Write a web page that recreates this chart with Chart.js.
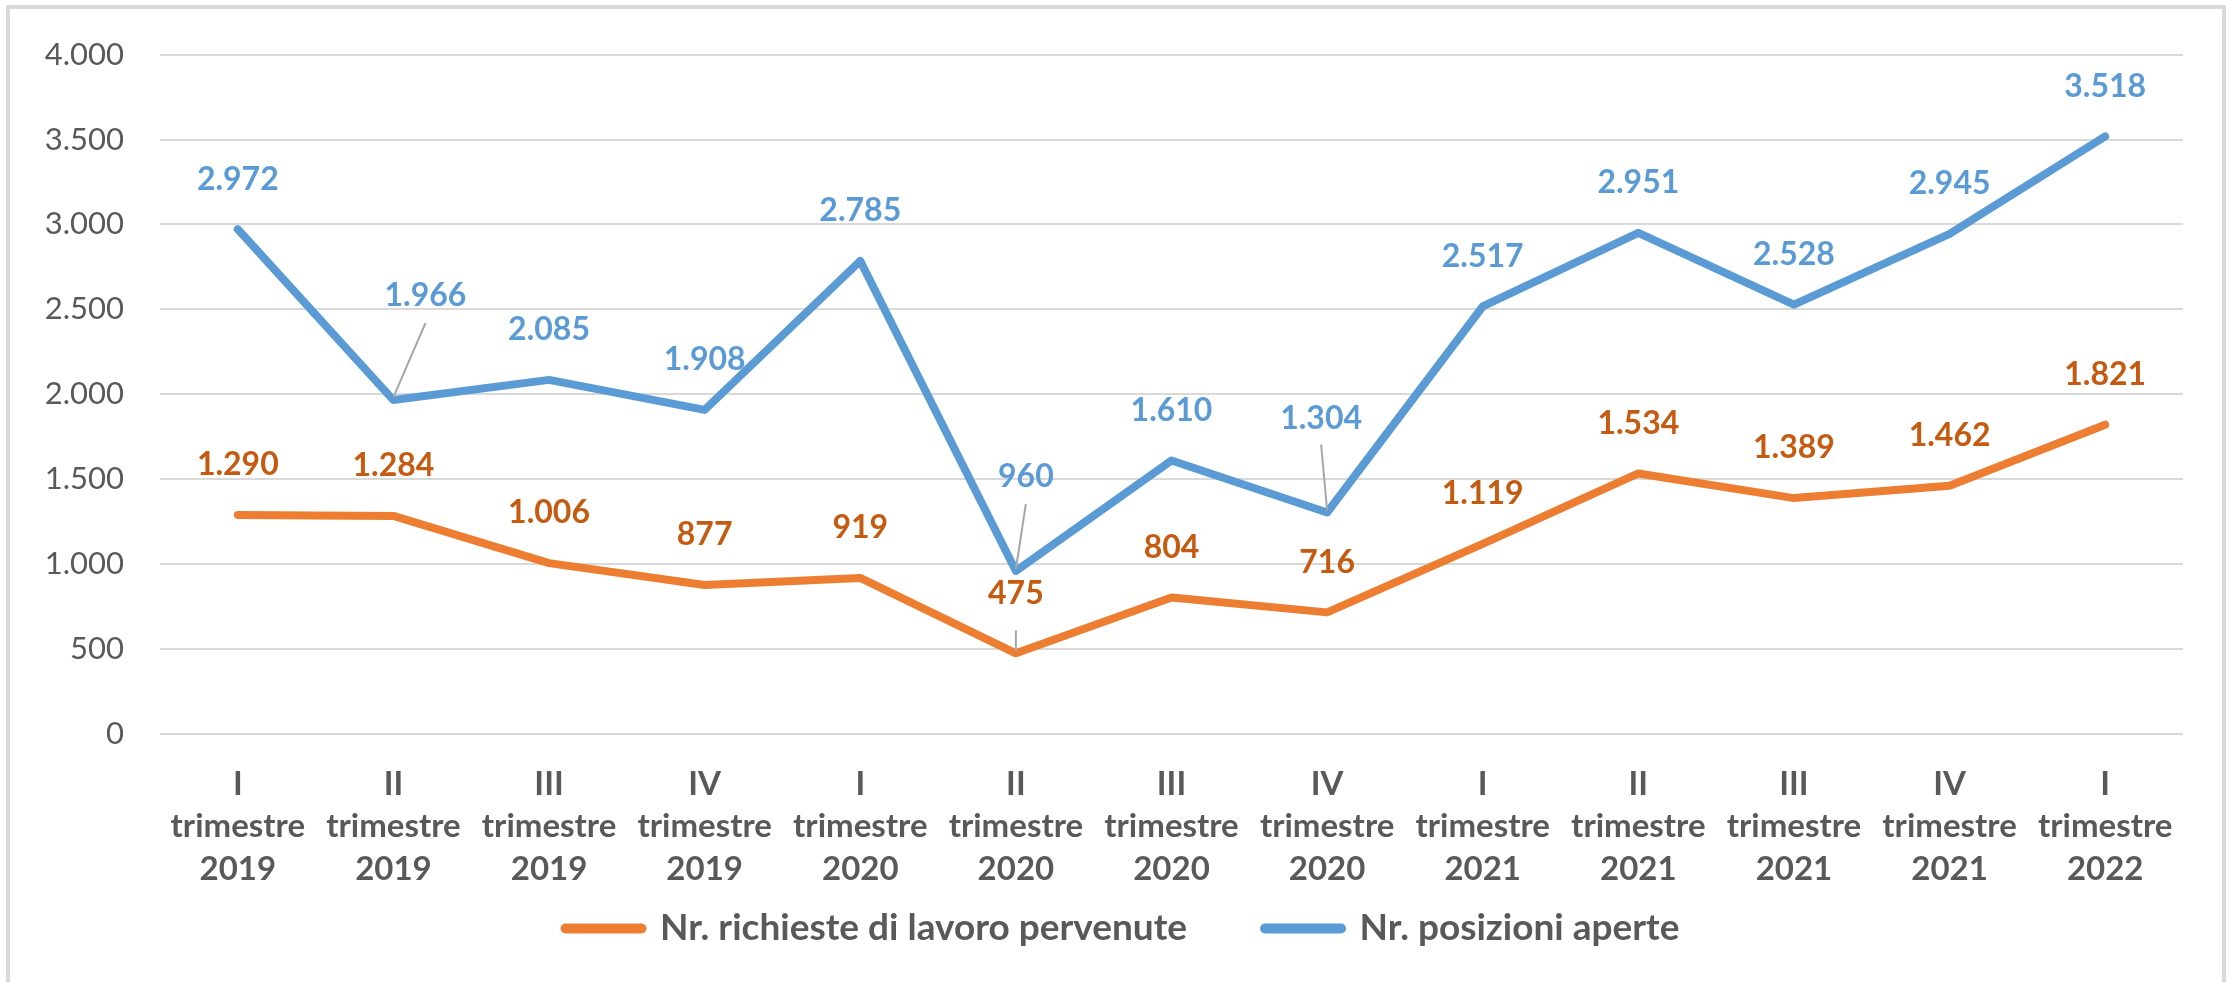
<!DOCTYPE html>
<html>
<head>
<meta charset="utf-8">
<script src="https://cdn.jsdelivr.net/npm/chart.js@4"></script>
<style>
  html, body { margin: 0; padding: 0; background: #ffffff; }
  #wrap { position: absolute; left: 0; top: 0; width: 2234px; height: 982px; }
  #frame { position: absolute; left: 6px; top: 5px; width: 2220px; height: 990px; border: 4px solid #d9d9d9; box-sizing: border-box; pointer-events: none; }
  canvas { position: absolute; left: 0; top: 0; }
</style>
</head>
<body>
<div id="wrap">
  <canvas id="c" width="2234" height="982"></canvas>
  <div id="frame"></div>
</div>
<script>
// ---- data ----
const quarters = ["I", "II", "III", "IV", "I", "II", "III", "IV", "I", "II", "III", "IV", "I"];
const years = ["2019", "2019", "2019", "2019", "2020", "2020", "2020", "2020", "2021", "2021", "2021", "2021", "2022"];
const richieste = [1290, 1284, 1006, 877, 919, 475, 804, 716, 1119, 1534, 1389, 1462, 1821];
const posizioni = [2972, 1966, 2085, 1908, 2785, 960, 1610, 1304, 2517, 2951, 2528, 2945, 3518];
const seriesNames = ["Nr. richieste di lavoro pervenute", "Nr. posizioni aperte"];
const yTicks = [0, 500, 1000, 1500, 2000, 2500, 3000, 3500, 4000];

// ---- styles ----
const FONT = "Lato, 'Open Sans', sans-serif";
const TEXT = "#595959";
const ORANGE = "#ED7D31";
const ORANGE_LABEL = "#C55A11";
const BLUE = "#5B9BD5";
const GRID = "#D9D9D9";
const LEADER = "#A6A6A6";

// label placement (px, relative to point): default above
const DEF_DY = -50;
const labelShift = {
  0: { 5: { dx: 0, dy: -60, leader: [-23, -2] } },
  1: { 1: { dx: 32, dy: -104, leader: [-77, -3] },
       5: { dx: 10, dy: -94, leader: [-67, -2] },
       7: { dx: -6, dy: -94, leader: [-68, -2] } }
};

const fmt = v => v.toLocaleString('de-DE');

const labelPlugin = {
  id: 'pointLabels',
  afterLayout(chart) {
    // fine placement of the legend row (box grows upward, bottom kept)
    const lg = chart.legend;
    if (lg) { lg.top -= 62; lg.height += 62; lg.left += 26; lg.right += 26; }
  },
  afterDatasetsDraw(chart) {
    const ctx = chart.ctx;
    ctx.save();
    chart.data.datasets.forEach((ds, di) => {
      const meta = chart.getDatasetMeta(di);
      meta.data.forEach((pt, i) => {
        const s = (labelShift[di] && labelShift[di][i]) || { dx: 0, dy: DEF_DY };
        const lx = pt.x + s.dx, ly = pt.y + s.dy;
        if (s.leader) {
          ctx.strokeStyle = LEADER;
          ctx.lineWidth = 2;
          ctx.beginPath();
          ctx.moveTo(lx, pt.y + s.leader[0]);
          ctx.lineTo(pt.x, pt.y + s.leader[1]);
          ctx.stroke();
        }
        ctx.fillStyle = ds.labelColor;
        ctx.font = "bold 32px " + FONT;
        ctx.textAlign = 'center';
        ctx.textBaseline = 'middle';
        ctx.fillText(fmt(ds.data[i]), lx, ly);
      });
    });
    ctx.restore();
  }
};

new Chart(document.getElementById('c'), {
  type: 'line',
  data: {
    labels: quarters.map((q, i) => [q, 'trimestre', years[i]]),
    datasets: [
      { label: seriesNames[0], data: richieste, borderColor: ORANGE, backgroundColor: ORANGE, labelColor: ORANGE_LABEL,
        borderWidth: 8, pointRadius: 0, tension: 0, borderJoinStyle: 'round', borderCapStyle: 'round' },
      { label: seriesNames[1], data: posizioni, borderColor: BLUE, backgroundColor: BLUE, labelColor: BLUE,
        borderWidth: 8, pointRadius: 0, tension: 0, borderJoinStyle: 'round', borderCapStyle: 'round' }
    ]
  },
  options: {
    responsive: false,
    animation: false,
    devicePixelRatio: 1,
    layout: { padding: { left: 10, right: 51, top: 45, bottom: 28 } },
    plugins: {
      tooltip: { enabled: false },
      legend: {
        position: 'bottom',
        maxHeight: 60,
        labels: {
          usePointStyle: true,
          pointStyle: 'line',
          pointStyleWidth: 76,
          boxHeight: 37,
          padding: 78,
          color: TEXT,
          font: { family: FONT, size: 37, weight: 'bold' },
          generateLabels(chart) {
            return chart.data.datasets.map((ds, i) => ({
              text: ds.label, fillStyle: ds.borderColor, strokeStyle: ds.borderColor,
              lineWidth: 10, lineCap: 'round', pointStyle: 'line', fontColor: TEXT, datasetIndex: i, hidden: false
            }));
          }
        }
      }
    },
    scales: {
      x: {
        offset: true,
        grid: { display: false, drawTicks: false },
        border: { display: false },
        ticks: { color: TEXT, padding: 29, maxRotation: 0, autoSkip: false,
                 font: { family: FONT, size: 33, weight: 'bold', lineHeight: 1.29 } },
        afterFit(axis) { axis.height = 160; }
      },
      y: {
        min: 0, max: 4000,
        afterBuildTicks(axis) { axis.ticks = yTicks.map(v => ({ value: v })); },
        grid: { color: GRID, lineWidth: 2, drawTicks: false },
        border: { display: false },
        ticks: { color: TEXT, padding: 36, font: { family: FONT, size: 31 }, callback: v => fmt(v) },
        afterFit(axis) { axis.width = 150; }
      }
    }
  },
  plugins: [labelPlugin]
});
</script>
</body>
</html>
